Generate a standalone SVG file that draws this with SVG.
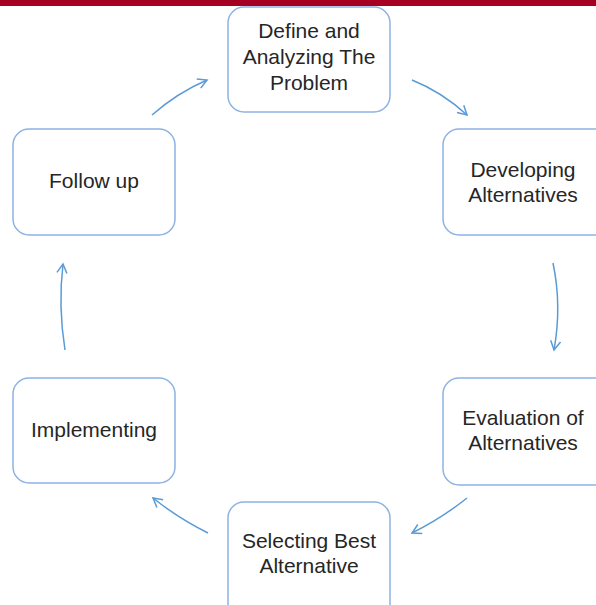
<svg xmlns="http://www.w3.org/2000/svg" width="596" height="605" viewBox="0 0 596 605">
<defs>
<style>
.box{fill:#ffffff;stroke:#8db3e2;stroke-width:1.5}
.t{font-family:"Liberation Sans",Arial,sans-serif;font-size:21px;fill:#262626;text-anchor:middle}
.c{fill:none;stroke:#5b9bd5;stroke-width:1.5;marker-end:url(#ah)}
</style>
<marker id="ah" viewBox="0 0 12 12" refX="10" refY="6" markerWidth="12" markerHeight="12" markerUnits="userSpaceOnUse" orient="auto">
<path d="M1,1 L10,6 L1,11" fill="none" stroke="#5b9bd5" stroke-width="1.5"/>
</marker>
</defs>
<rect x="0" y="0" width="596" height="605" fill="#ffffff"/>
<rect x="0" y="0" width="596" height="6" fill="#a50021"/>
<g id="connectors">
<path class="c" d="M152,115 Q177,93 207,80"/>
<path class="c" d="M412,80 Q442,92 467,115"/>
<path class="c" d="M553,263 Q562,306 554,350"/>
<path class="c" d="M467,498 Q442,518 412,533"/>
<path class="c" d="M208,533 Q178,518 153,498"/>
<path class="c" d="M65,350 Q58,306 63,264"/>
</g>
<g id="node-define">
<rect class="box" x="228" y="7" width="162" height="105" rx="16"/>
<text class="t" x="309" y="38">Define and</text>
<text class="t" x="309" y="64">Analyzing The</text>
<text class="t" x="309" y="90">Problem</text>
</g>
<g id="node-developing">
<rect class="box" x="443" y="129" width="170" height="106" rx="16"/>
<text class="t" x="523" y="177">Developing</text>
<text class="t" x="523" y="202">Alternatives</text>
</g>
<g id="node-evaluation">
<rect class="box" x="443" y="378" width="170" height="107" rx="16"/>
<text class="t" x="523" y="425">Evaluation of</text>
<text class="t" x="523" y="450">Alternatives</text>
</g>
<g id="node-selecting">
<rect class="box" x="228" y="502" width="162" height="120" rx="16"/>
<text class="t" x="309" y="548">Selecting Best</text>
<text class="t" x="309" y="573">Alternative</text>
</g>
<g id="node-implementing">
<rect class="box" x="13" y="378" width="162" height="105" rx="16"/>
<text class="t" x="94" y="437">Implementing</text>
</g>
<g id="node-followup">
<rect class="box" x="13" y="129" width="162" height="106" rx="16"/>
<text class="t" x="94" y="188">Follow up</text>
</g>
</svg>
